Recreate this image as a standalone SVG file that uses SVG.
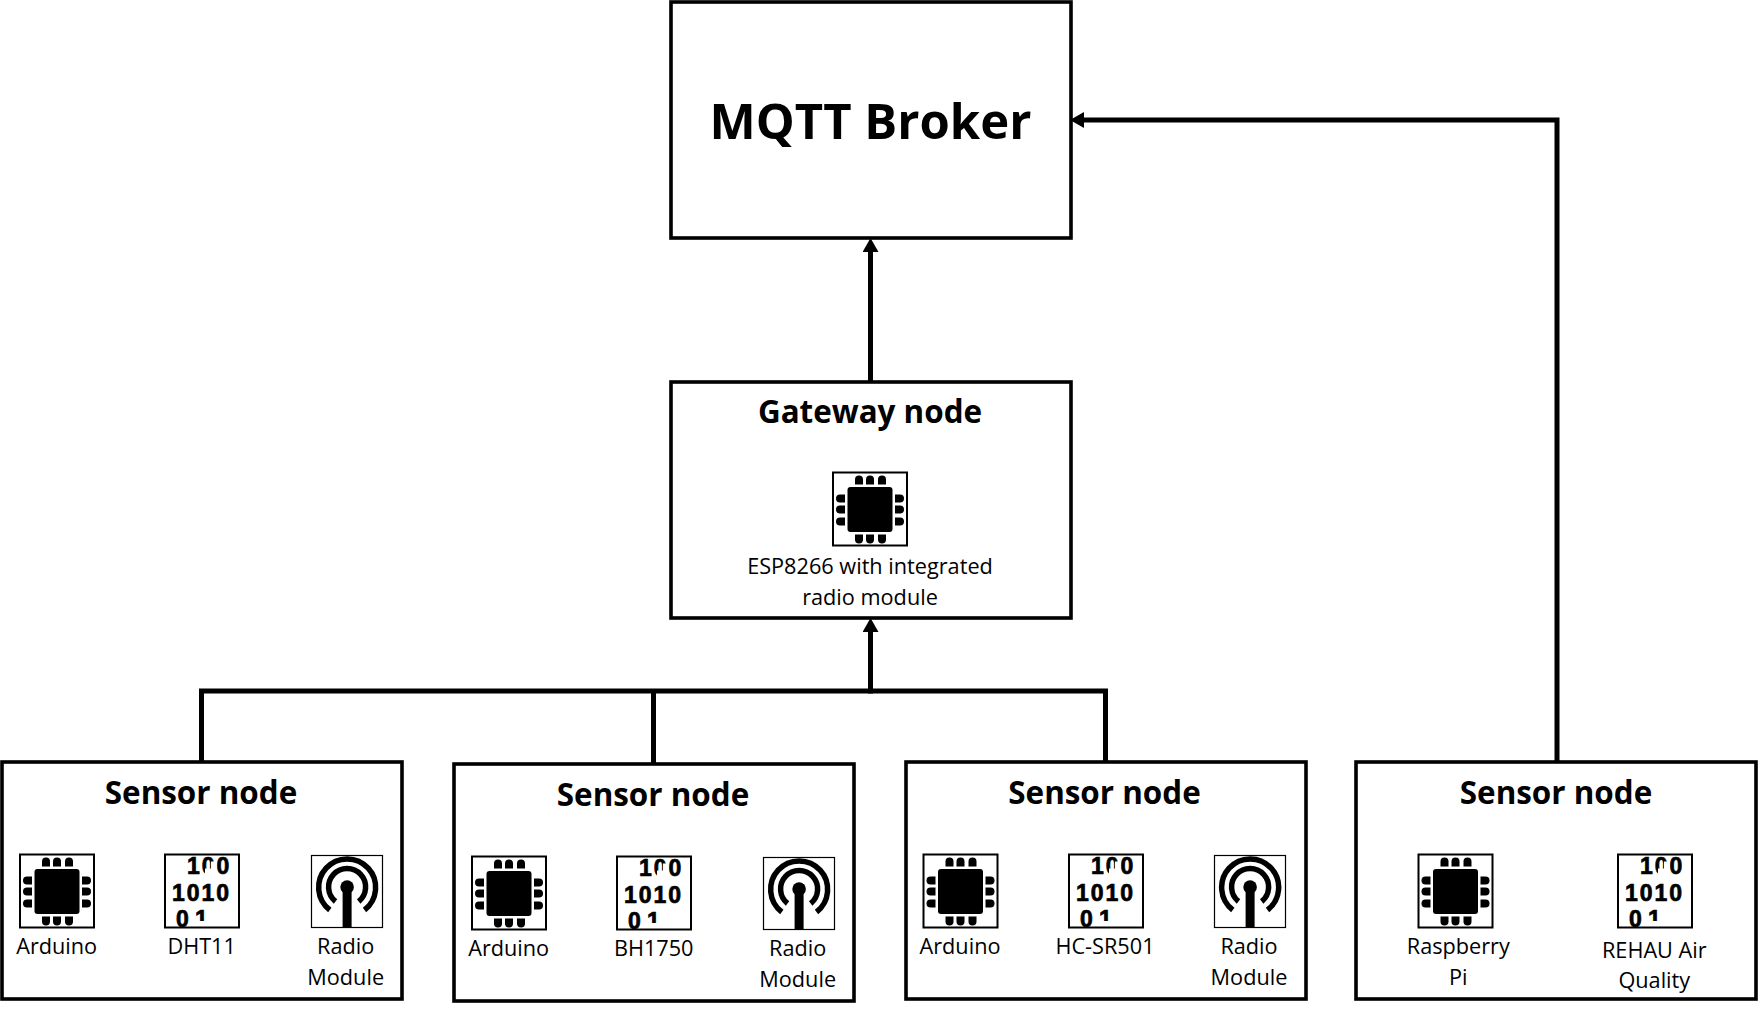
<svg xmlns="http://www.w3.org/2000/svg" width="1758" height="1010" viewBox="0 0 1758 1010">
<style>
text{font-family:"Open Sans","Noto Sans","Liberation Sans",sans-serif;fill:#000;text-anchor:middle}
.box{fill:#fff;stroke:#000;stroke-width:3.6}
.title{font-size:31.4px;font-weight:700}
.broker{font-size:49px;font-weight:700}
.label{font-size:21.7px}
.wire{fill:none;stroke:#000;stroke-width:5}
.ibox{fill:none;stroke:#000;stroke-width:2}
.rbox{fill:#fff;stroke:#000;stroke-width:1.2}
.d{font-family:"Liberation Sans",Arial,sans-serif;font-size:23px;font-weight:700;text-anchor:start;letter-spacing:2px;stroke:#000;stroke-width:.7px}
.arc{fill:none;stroke:#000;stroke-width:5.5}
</style>
<defs>
<marker id="arrow" markerUnits="userSpaceOnUse" markerWidth="15" markerHeight="16" refX="1" refY="8" orient="auto" viewBox="0 0 15 16">
<polygon points="0,0 14,8 0,16" fill="#000"/>
</marker>
<clipPath id="dclip"><rect x="0" y="0" width="74" height="73"/></clipPath>
<g id="pin-v"><path d="M-4 10V5Q-4 1 0 1Q4 1 4 5V10Z"/></g>
<g id="chip">
<rect x="0" y="0" width="74" height="73" fill="#fff"/>
<rect class="ibox" x="0" y="0" width="74" height="73"/>
<rect x="14.5" y="14.5" width="45" height="45" rx="3"/>
<use href="#pin-v" x="26" y="2"/><use href="#pin-v" x="37" y="2"/><use href="#pin-v" x="49" y="2"/>
<use href="#pin-v" transform="translate(26 72) scale(1 -1)"/><use href="#pin-v" transform="translate(37 72) scale(1 -1)"/><use href="#pin-v" transform="translate(49 72) scale(1 -1)"/>
<use href="#pin-v" transform="translate(2 26) rotate(-90)"/><use href="#pin-v" transform="translate(2 37) rotate(-90)"/><use href="#pin-v" transform="translate(2 49) rotate(-90)"/>
<use href="#pin-v" transform="translate(72 26) rotate(90)"/><use href="#pin-v" transform="translate(72 37) rotate(90)"/><use href="#pin-v" transform="translate(72 49) rotate(90)"/>
</g>
<g id="dmask" fill="#fff">
<rect x="46" y="7" width="5.5" height="14"/>
<rect x="40" y="14" width="8" height="7"/>
<rect x="28" y="66.5" width="16" height="7"/>
</g>
<g id="radio">
<rect class="rbox" x="0" y="0" width="71" height="72"/>
<path class="arc" d="M18.3 54.5A28.5 28.5 0 1 1 53 54.5"/>
<path class="arc" d="M24 46A18.5 18.5 0 1 1 47.2 46"/>
<circle cx="35.6" cy="31.5" r="6.8"/>
<rect x="31.1" y="31.5" width="9" height="40.5"/>
</g>
</defs>
<rect width="1758" height="1010" fill="#fff"/>
<g id="connectors">
<path class="wire" d="M201.5 762V691H1105.5V762"/>
<path class="wire" d="M653.5 764V691"/>
<path class="wire" d="M870.5 693.5V631" marker-end="url(#arrow)"/>
<path class="wire" d="M870.5 382V251" marker-end="url(#arrow)"/>
<path class="wire" d="M1557 762V120H1083" marker-end="url(#arrow)"/>
</g>
<g id="mqtt-broker">
<rect class="box" x="671" y="2" width="400" height="236"/>
<text class="broker" x="870.5" y="139">MQTT Broker</text>
</g>
<g id="gateway-node">
<rect class="box" x="671" y="382" width="400" height="236"/>
<text class="title" x="870" y="423">Gateway node</text>
<use href="#chip" x="833" y="472.5"/>
<text class="label" x="870" y="574">ESP8266 with integrated</text>
<text class="label" x="870" y="605">radio module</text>
</g>
<g id="sensor-node-1">
<rect class="box" x="2" y="762" width="400" height="237"/>
<text class="title" x="201" y="804">Sensor node</text>
<use href="#chip" x="20" y="854.5"/>
<text class="label" x="56.7" y="954">Arduino</text>
<g transform="translate(165 854.5)"><g clip-path="url(#dclip)"><text class="d" x="22" y="19">100</text><text class="d" x="7" y="46">1010</text><text class="d" x="11 30" y="72">01</text><use href="#dmask"/></g><rect class="ibox" width="74" height="73"/></g>
<text class="label" x="201.7" y="954">DHT11</text>
<use href="#radio" x="311.5" y="855.5"/>
<text class="label" x="345.7" y="954">Radio</text>
<text class="label" x="345.7" y="985">Module</text>
</g>
<g id="sensor-node-2">
<rect class="box" x="454" y="764" width="400" height="237"/>
<text class="title" x="653" y="806">Sensor node</text>
<use href="#chip" x="472" y="856.5"/>
<text class="label" x="508.7" y="956">Arduino</text>
<g transform="translate(617 856.5)"><g clip-path="url(#dclip)"><text class="d" x="22" y="19">100</text><text class="d" x="7" y="46">1010</text><text class="d" x="11 30" y="72">01</text><use href="#dmask"/></g><rect class="ibox" width="74" height="73"/></g>
<text class="label" x="653.7" y="956">BH1750</text>
<use href="#radio" x="763.5" y="857.5"/>
<text class="label" x="797.7" y="956">Radio</text>
<text class="label" x="797.7" y="987">Module</text>
</g>
<g id="sensor-node-3">
<rect class="box" x="906" y="762" width="400" height="237"/>
<text class="title" x="1104.5" y="804">Sensor node</text>
<use href="#chip" x="923.5" y="854.5"/>
<text class="label" x="960" y="954">Arduino</text>
<g transform="translate(1069 854.5)"><g clip-path="url(#dclip)"><text class="d" x="22" y="19">100</text><text class="d" x="7" y="46">1010</text><text class="d" x="11 30" y="72">01</text><use href="#dmask"/></g><rect class="ibox" width="74" height="73"/></g>
<text class="label" x="1105" y="954">HC-SR501</text>
<use href="#radio" x="1214.5" y="855.5"/>
<text class="label" x="1249" y="954">Radio</text>
<text class="label" x="1249" y="985">Module</text>
</g>
<g id="sensor-node-4">
<rect class="box" x="1356" y="762" width="400" height="237"/>
<text class="title" x="1556" y="804">Sensor node</text>
<use href="#chip" x="1418.5" y="854.5"/>
<text class="label" x="1458.3" y="954">Raspberry</text>
<text class="label" x="1458.3" y="985">Pi</text>
<g transform="translate(1618 854.5)"><g clip-path="url(#dclip)"><text class="d" x="22" y="19">100</text><text class="d" x="7" y="46">1010</text><text class="d" x="11 30" y="72">01</text><use href="#dmask"/></g><rect class="ibox" width="74" height="73"/></g>
<text class="label" x="1654.3" y="957.5">REHAU Air</text>
<text class="label" x="1654.3" y="988">Quality</text>
</g>
</svg>
